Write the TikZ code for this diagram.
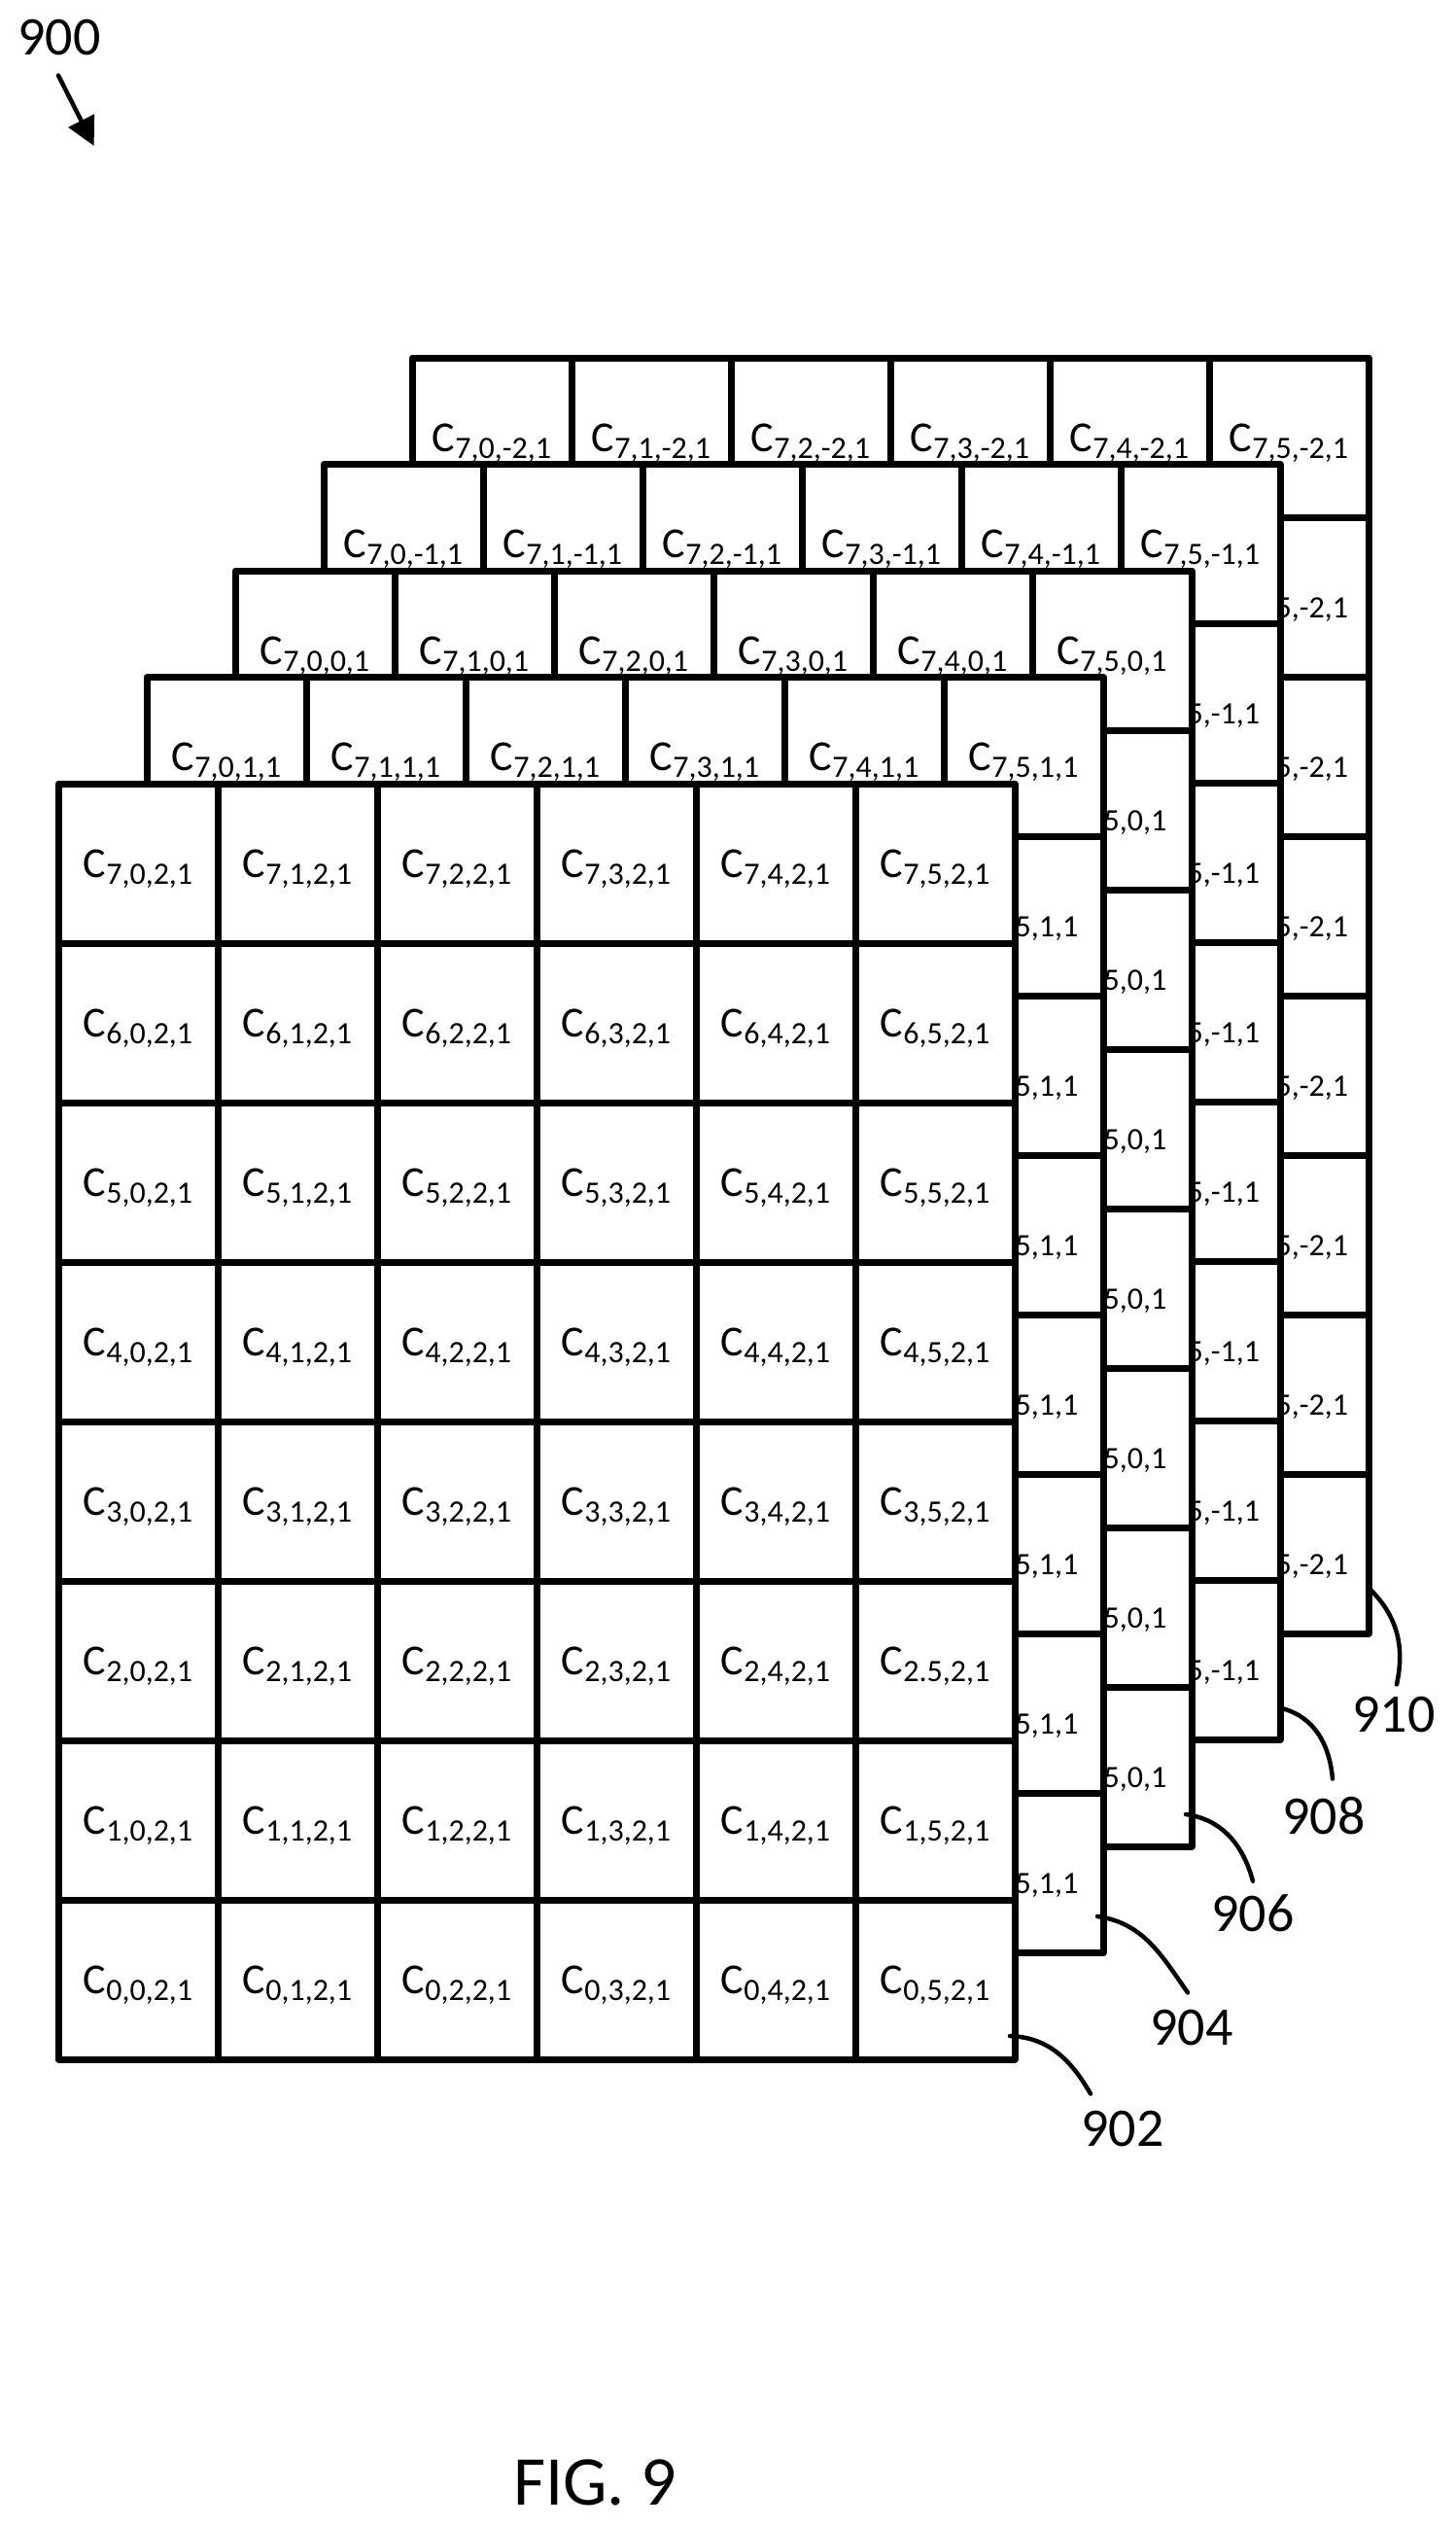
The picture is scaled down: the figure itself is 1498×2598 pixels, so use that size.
\documentclass[tikz,border=0pt]{standalone}
\usepackage{fontspec}
\setmainfont{Carlito}
\usetikzlibrary{arrows.meta}

\def\cellsize{164}
\newcommand{\cname}[1]{C\raisebox{-7pt}{\fontsize{32}{32}\selectfont #1}}

\begin{document}
\begin{tikzpicture}[x=1pt,y=-1pt,line join=round]
    \tikzstyle{cell}=[draw=black,fill=white,line width=7pt,minimum width=\cellsize pt,minimum height=\cellsize pt,inner sep=0pt,text height=28pt,text depth=0pt,font=\fontsize{44}{44}\selectfont]
    \tikzstyle{refnum}=[inner sep=0pt,font=\fontsize{56}{56}\selectfont]
    \tikzstyle{leader}=[draw=black,line width=4.5pt,line cap=round]

    \useasboundingbox (0,0) rectangle (1498,2598);

    % Draw the back layers, only the top row and the right column show
    \foreach \l/\z in {5/-2,4/-1,3/0,2/1} {
        \pgfmathsetmacro\xo{142+91*(\l-1)}
        \pgfmathsetmacro\yo{888-109.5*(\l-1)}
        \foreach \c in {0,...,5}
            \node[cell] (C-\l-7-\c) at ({\xo+\cellsize*\c},\yo) {\cname{7,\c,\z,1}};
        \foreach \r in {6,...,0}
            \node[cell] (C-\l-\r-5) at ({\xo+\cellsize*5},{\yo+\cellsize*(7-\r)}) {\cname{\r,5,\z,1}};
    }

    % Draw the front layer, one cell is printed with a point
    \foreach \r in {7,...,0}
        \foreach \c in {0,...,5}
            \node[cell] (C-1-\r-\c) at ({142+\cellsize*\c},{888+\cellsize*(7-\r)}) {\cname{\r\ifnum\r\c=25 .\else,\fi\c,2,1}};

    % Reference numbers with their leaders
    \foreach \name/\lx/\ly/\sx/\sy/\ex/\ey/\o/\i in {
        902/1155/2189/1039/2094/-33/-17/-2/120,
        904/1226/2085/1129/1971/-4/-17/-8/125,
        906/1289/1968/1220/1866/0/-14/-8/105,
        908/1362/1868/1319/1757/9/-19/-15/95,
        910/1434/1763/1410/1635/3/-12/-45/78} {
        \node[refnum] (L-\name) at (\lx,\ly) {\name};
        \coordinate (S-\name) at (\sx,\sy);
        \draw[leader] (S-\name) to[out=\o,in=\i] ([shift={(\ex,\ey)}]L-\name.north);
    }

    % Figure number and its arrow
    \node[refnum] (L-900) at (61,39) {900};
    \coordinate (A-900) at (96.7,150);
    \draw[line width=4.5pt,line cap=round,-{Triangle[length=29pt,width=29pt]}] ([shift={(-1,20)}]L-900.south) -- (A-900);

    \node[font=\fontsize{72}{72}\selectfont,inner sep=0pt] (fig) at (612,2553) {FIG. 9};
\end{tikzpicture}
\end{document}
